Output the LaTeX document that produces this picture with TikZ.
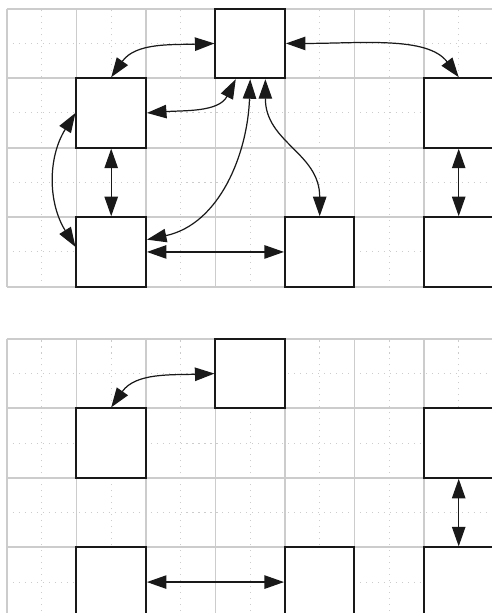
\documentclass[tikz,border=0pt]{standalone}
\usetikzlibrary{arrows.meta}

\tikzset{
  cell/.style={draw=black!90,line width=0.8pt,minimum size=1cm,inner sep=0pt,fill=white},
  link/.style={{Triangle[length=8pt,width=5.5pt]}-{Triangle[length=8pt,width=5.5pt]},line width=0.5pt,black!90},
  minorgrid/.style={step=0.5cm,gray!40,dotted,line width=0.45pt},
  majorgrid/.style={step=1cm,gray!40,line width=0.7pt}
}

\begin{document}
\begin{tikzpicture}
  \useasboundingbox (-0.1,0.125) rectangle (6.975,-8.695);

  % upper state
  \draw[minorgrid] (0,0) grid (7,-4);
  \draw[majorgrid] (0,0) grid (7,-4);

  \node[cell] (T)  at (3.5,-0.5) {};
  \node[cell] (L)  at (1.5,-1.5) {};
  \node[cell] (R)  at (6.5,-1.5) {};
  \node[cell] (BL) at (1.5,-3.5) {};
  \node[cell] (BM) at (4.5,-3.5) {};
  \node[cell] (BR) at (6.5,-3.5) {};

  \draw[link] (T.west) to[out=182,in=55] (L.north);
  \draw[link] (L.east) to[out=4,in=243] (T.248);
  \draw[link] (T.south) to[out=-92,in=12] (BL.19);
  \draw[link] (T.293) to[out=-90,in=90,looseness=1.1] (BM.north);
  \draw[link] (T.east) to[out=0,in=127,out looseness=1.1,in looseness=0.75] (R.north);
  \draw[link] (L.south) -- (BL.north);
  \draw[link] (L.west) to[bend right=32] (BL.172);
  \draw[link] (BL.east) -- (BM.west);
  \draw[link] (R.south) -- (BR.north);

  % lower state
  \begin{scope}[yshift=-4.75cm]
    \draw[minorgrid] (0,0) grid (7,-4);
    \draw[majorgrid] (0,0) grid (7,-4);

    \node[cell] (T2)  at (3.5,-0.5) {};
    \node[cell] (L2)  at (1.5,-1.5) {};
    \node[cell] (R2)  at (6.5,-1.5) {};
    \node[cell] (BL2) at (1.5,-3.5) {};
    \node[cell] (BM2) at (4.5,-3.5) {};
    \node[cell] (BR2) at (6.5,-3.5) {};

    \draw[link] (T2.west) to[out=182,in=55] (L2.north);
    \draw[link] (BL2.east) -- (BM2.west);
    \draw[link] (R2.south) -- (BR2.north);
  \end{scope}
\end{tikzpicture}
\end{document}
